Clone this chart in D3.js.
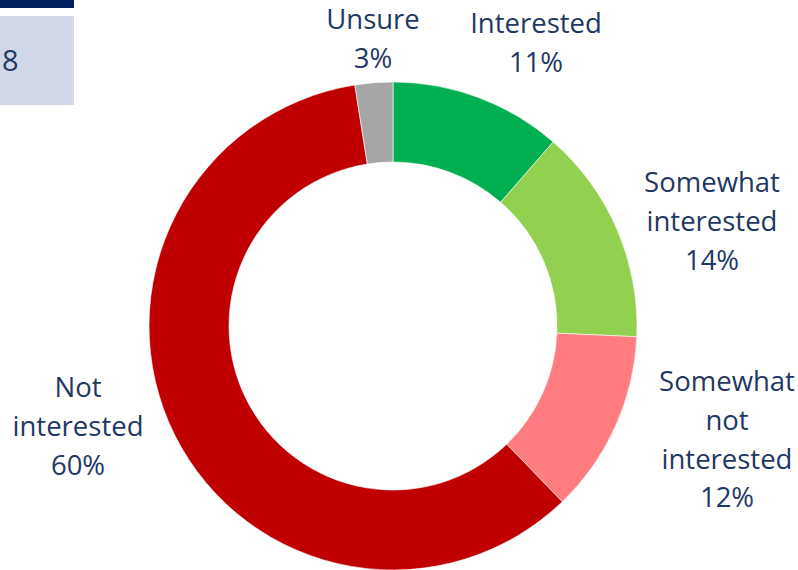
<!DOCTYPE html>
<html>
<head>
<meta charset="utf-8">
<script src="https://cdn.jsdelivr.net/npm/d3@7"></script>
<style>
  body { margin: 0; background: #fff; }
  svg { display: block; }
  text { font-family: "Open Sans", sans-serif; fill: #1f3864; }
</style>
</head>
<body>
<div id="chart"></div>
<script>
// Data (share of respondents, %)
var categories = ["Interested", "Somewhat interested", "Somewhat not interested", "Not interested", "Unsure"];
var labelLines = [["Interested"], ["Somewhat", "interested"], ["Somewhat", "not", "interested"], ["Not", "interested"], ["Unsure"]];
var values = [11.4, 14.3, 12.1, 59.7, 2.5];
var colors = ["#00b050", "#92d050", "#ff7c80", "#c00000", "#a6a6a6"];

// label anchors relative to chart centre (layout only)
var labelAnchor = [[143, -293], [319, -134], [334, 65], [-315, 71], [-20, -297]];

var width = 798, height = 570;
var cx = 393, cy = 326;
var outerR = 244, innerR = 164;
var lineH = 38.8;

var svg = d3.select("#chart").append("svg")
    .attr("width", width)
    .attr("height", height);

// slide fragments in the top-left corner
svg.append("rect").attr("x", 0).attr("y", 0).attr("width", 74).attr("height", 8).attr("fill", "#002060");
svg.append("rect").attr("x", 0).attr("y", 16).attr("width", 74).attr("height", 89).attr("fill", "#d0d8e8");
svg.append("text").attr("x", 2).attr("y", 71).style("font-size", "29px").text("8");

var data = categories.map(function(c, i) {
    return {name: c, value: values[i], color: colors[i], lines: labelLines[i], anchor: labelAnchor[i]};
});

var pie = d3.pie()
    .sort(null)
    .value(function(d) { return d.value; });

var arc = d3.arc()
    .innerRadius(innerR)
    .outerRadius(outerR);

var g = svg.append("g")
    .attr("transform", "translate(" + cx + "," + cy + ")");

g.selectAll("path.slice")
    .data(pie(data))
    .enter().append("path")
    .attr("class", "slice")
    .attr("d", arc)
    .attr("fill", function(d) { return d.data.color; })
    .attr("stroke", "#fff")
    .attr("stroke-width", 0.6);

var labels = g.selectAll("text.label")
    .data(pie(data))
    .enter().append("text")
    .attr("class", "label")
    .attr("text-anchor", "middle")
    .style("font-size", "27.5px");

labels.each(function(d) {
    var t = d3.select(this);
    var lines = d.data.lines.concat([Math.round(d.data.value) + "%"]);
    lines.forEach(function(l, i) {
        t.append("tspan")
            .attr("x", d.data.anchor[0])
            .attr("y", d.data.anchor[1] + i * lineH)
            .text(l);
    });
});
</script>
</body>
</html>
